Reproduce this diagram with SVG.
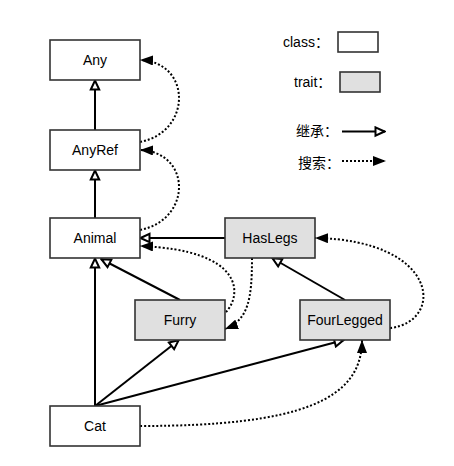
<svg xmlns="http://www.w3.org/2000/svg" width="454" height="466" viewBox="0 0 454 466">
<style>
.box{fill:#fff;stroke:#333;stroke-width:1.6}
.trait{fill:#e0e0e0;stroke:#333;stroke-width:1.6}
.lbl{font-family:"Liberation Sans","Noto Sans CJK SC",sans-serif;font-size:14px;fill:#000;text-anchor:middle;dominant-baseline:central}
.lg{font-family:"Liberation Sans","Noto Sans CJK SC",sans-serif;font-size:14px;fill:#000}
.inh{fill:none;stroke:#000;stroke-width:2;marker-end:url(#hollow)}
.srch{fill:none;stroke:#000;stroke-width:2;stroke-dasharray:2 2;marker-end:url(#filled)}
</style>
<defs>
<marker id="hollow" viewBox="0 0 12 12" refX="11" refY="6" markerWidth="12" markerHeight="12" markerUnits="userSpaceOnUse" orient="auto">
<path d="M1.5,1.8 L10.5,6 L1.5,10.2 Z" fill="#fff" stroke="#000" stroke-width="2"/>
</marker>
<marker id="filled" viewBox="0 0 13 10" refX="13" refY="5" markerWidth="13" markerHeight="10" markerUnits="userSpaceOnUse" orient="auto">
<path d="M0,0 L13,5 L0,10 Z" fill="#000"/>
</marker>
</defs>
<g id="connectors">
<path class="inh" d="M95,130 L95,80"/>
<path class="inh" d="M95,218 L95,170"/>
<path class="inh" d="M225,238 L140,238"/>
<path class="inh" d="M180,300 L101,259"/>
<path class="inh" d="M345,300 L272,258"/>
<path class="inh" d="M95,406 L95,258"/>
<path class="inh" d="M95,406 L179,340"/>
<path class="inh" d="M95,406 L344,340"/>
<path class="srch" d="M140,142 C192,132 192,62 140,60"/>
<path class="srch" d="M140,230 C192,220 192,152 140,150"/>
<path class="srch" d="M226,312 C242,295 245,250 140,246"/>
<path class="srch" d="M252,258 C252,300 248,320 225,329"/>
<path class="srch" d="M390,328 C445,322 440,240 315,238"/>
<path class="srch" d="M140,426 C300,426 362,400 362,340"/>
</g>
<g id="Any"><rect class="box" x="50" y="40" width="90" height="40"/><text class="lbl" x="95" y="60">Any</text></g>
<g id="AnyRef"><rect class="box" x="50" y="130" width="90" height="40"/><text class="lbl" x="95" y="150">AnyRef</text></g>
<g id="Animal"><rect class="box" x="50" y="218" width="90" height="40"/><text class="lbl" x="95" y="238">Animal</text></g>
<g id="HasLegs"><rect class="trait" x="225" y="218" width="90" height="40"/><text class="lbl" x="270" y="238">HasLegs</text></g>
<g id="Furry"><rect class="trait" x="135" y="300" width="90" height="40"/><text class="lbl" x="180" y="320">Furry</text></g>
<g id="FourLegged"><rect class="trait" x="300" y="300" width="90" height="40"/><text class="lbl" x="345" y="320">FourLegged</text></g>
<g id="Cat"><rect class="box" x="50" y="406" width="90" height="40"/><text class="lbl" x="95" y="426">Cat</text></g>
<g id="legend">
<text class="lg" x="283" y="47">class：</text>
<rect class="box" x="338" y="32" width="40" height="20"/>
<text class="lg" x="294" y="87">trait：</text>
<rect class="trait" x="340" y="72" width="40" height="20"/>
<text class="lg" x="296" y="136">继承：</text>
<path d="M342,131.5 L385,131.5" fill="none" stroke="#000" stroke-width="2" marker-end="url(#hollow)"/>
<text class="lg" x="298" y="168">搜索：</text>
<path d="M342,161 L386,161" fill="none" stroke="#000" stroke-width="2" stroke-dasharray="2 2" marker-end="url(#filled)"/>
</g>
</svg>
